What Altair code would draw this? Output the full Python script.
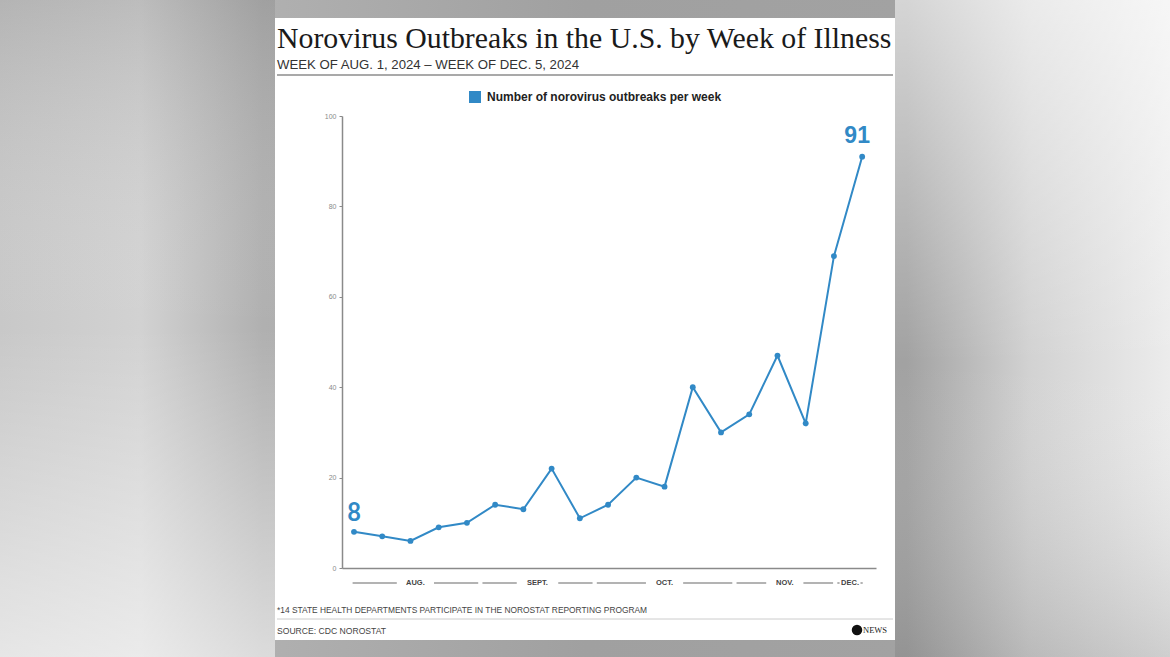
import altair as alt
import pandas as pd

# ---------------- data ----------------
weeks = ["Aug 1", "Aug 8", "Aug 15", "Aug 22", "Aug 29", "Sep 5", "Sep 12", "Sep 19",
         "Sep 26", "Oct 3", "Oct 10", "Oct 17", "Oct 24", "Oct 31", "Nov 7", "Nov 14",
         "Nov 21", "Nov 28", "Dec 5"]
outbreaks = [8, 7, 6, 9, 10, 14, 13, 22, 11, 14, 20, 18, 40, 30, 34, 47, 32, 69, 91]
y_ticks = [0, 20, 40, 60, 80, 100]
months = ["AUG.", "SEPT.", "OCT.", "NOV.", "DEC."]
month_start = [-0.05, 4.55, 8.6, 13.55, 17.12]   # in week-index units
month_end = [4.4, 8.45, 13.4, 16.97, 18.02]

title_text = "Norovirus Outbreaks in the U.S. by Week of Illness"
subtitle_text = "WEEK OF AUG. 1, 2024 \u2013 WEEK OF DEC. 5, 2024"
legend_text = "Number of norovirus outbreaks per week"
note_text = "*14 STATE HEALTH DEPARTMENTS PARTICIPATE IN THE NOROSTAT REPORTING PROGRAM"
source_text = "SOURCE: CDC NOROSTAT"
logo_text = "NEWS"

# ---------------- tables ----------------
df = pd.DataFrame({"idx": list(range(len(weeks))), "week": weeks, "value": outbreaks})

W, H = 534, 452
X_DOMAIN = [-0.425, 18.49]
PX = W / (X_DOMAIN[1] - X_DOMAIN[0])

seg_rows = []
lab_rows = []
for m, s, e in zip(months, month_start, month_end):
    mid = (s + e) / 2
    g = (len(m) * 4.3 / 2 + 10) / PX
    left_end = max(mid - g, s + 0.08)
    right_start = min(mid + g, e - 0.08)
    seg_rows.append({"a": s, "b": left_end})
    seg_rows.append({"a": right_start, "b": e})
    lab_rows.append({"mid": mid, "label": m})
segs = pd.DataFrame(seg_rows)
mlabs = pd.DataFrame(lab_rows)

one = pd.DataFrame({"k": [0]})
BLUE = "#3189c6"
GRAY = "#8a8a8a"

xscale = alt.Scale(domain=X_DOMAIN, nice=False, zero=False)
yscale = alt.Scale(domain=[0, 100], nice=False)
xaxis = alt.Axis(labels=False, ticks=False, title=None, grid=False,
                 domainColor=GRAY, domainWidth=1.5, zindex=1)
yaxis = alt.Axis(values=y_ticks, title=None, grid=False, labelFontSize=7,
                 labelColor=GRAY, labelFont="Liberation Sans", tickSize=3,
                 tickColor=GRAY, tickWidth=1, domainColor=GRAY,
                 domainWidth=1.5, labelPadding=3, zindex=1)


def X(field):
    return alt.X(field, scale=xscale, axis=xaxis)


def Y(field):
    return alt.Y(field, scale=yscale, axis=yaxis)


def rect(x, x2, y, y2, fill, **kw):
    return alt.Chart(one).mark_rect(fill=fill, **kw).encode(
        x=alt.value(x), x2=alt.value(x2), y=alt.value(y), y2=alt.value(y2))


def text(t, x, y, **kw):
    return alt.Chart(one).mark_text(text=t, **kw).encode(x=alt.value(x), y=alt.value(y))


def hline(x, x2, y, color, width):
    return alt.Chart(one).mark_rule(color=color, strokeWidth=width).encode(
        x=alt.value(x), x2=alt.value(x2), y=alt.value(y))


# ---------------- background ----------------
bg_grad = alt.LinearGradient(
    gradient="linear", x1=0, x2=1, y1=0, y2=0,
    stops=[alt.GradientStop(color="#c8c8c8", offset=0),
           alt.GradientStop(color="#d2d2d2", offset=0.12),
           alt.GradientStop(color="#b0b0b0", offset=0.225),
           alt.GradientStop(color="#a0a0a0", offset=0.5),
           alt.GradientStop(color="#a2a2a2", offset=0.775),
           alt.GradientStop(color="#d2d2d2", offset=0.88),
           alt.GradientStop(color="#ececec", offset=1)])
left_shade = alt.LinearGradient(
    gradient="linear", x1=0, x2=0, y1=0, y2=1,
    stops=[alt.GradientStop(color="rgba(90,90,90,0.18)", offset=0),
           alt.GradientStop(color="rgba(255,255,255,0.0)", offset=0.5),
           alt.GradientStop(color="rgba(255,255,255,0.55)", offset=1)])
right_shade = alt.LinearGradient(
    gradient="linear", x1=0, x2=0, y1=0, y2=1,
    stops=[alt.GradientStop(color="rgba(255,255,255,0.55)", offset=0),
           alt.GradientStop(color="rgba(255,255,255,0.0)", offset=0.55),
           alt.GradientStop(color="rgba(90,90,90,0.2)", offset=1)])

layers = [
    rect(-342, 828, -116, 541, bg_grad),
    rect(-342, -67, -116, 541, left_shade),
    rect(553, 828, -116, 541, right_shade),
    rect(-67, 553, -98, 524, "#ffffff"),
    text(title_text, -65, -68, font="Liberation Serif", fontSize=29.8, color="#1a1a1a",
         align="left", baseline="alphabetic"),
    text(subtitle_text, -65, -47, font="Liberation Sans", fontSize=13.2, color="#333333",
         align="left", baseline="alphabetic"),
    hline(-65, 551, -41, "#555555", 1.2),
    alt.Chart(one).mark_square(size=144, color=BLUE, opacity=1).encode(
        x=alt.value(133), y=alt.value(-19)),
    text(legend_text, 145, -19, font="Liberation Sans", fontSize=12, fontWeight="bold",
         color="#222222", align="left", baseline="middle"),
    text(note_text, -65, 497, font="Liberation Sans", fontSize=8.4, color="#444444",
         align="left", baseline="alphabetic"),
    hline(-65, 551, 503, "#cccccc", 1),
    text(source_text, -65, 518, font="Liberation Sans", fontSize=8.6, color="#444444",
         align="left", baseline="alphabetic"),
    alt.Chart(one).mark_circle(size=110, color="#111111", opacity=1).encode(
        x=alt.value(515), y=alt.value(514)),
    text(logo_text, 521, 514, font="Liberation Serif", fontSize=8.5, color="#222222",
         align="left", baseline="middle"),
]

# ---------------- chart ----------------
base = alt.Chart(df).encode(x=X("idx:Q"), y=Y("value:Q"))
line = base.mark_line(color=BLUE, strokeWidth=2)
pts = base.mark_circle(color=BLUE, size=34, opacity=1)

first = df.iloc[[0]]
last = df.iloc[[-1]]
lab_first = alt.Chart(first).mark_text(
    color=BLUE, fontSize=25, fontWeight=500, font="Roboto", dy=-11,
    baseline="alphabetic", align="center").encode(
    x=X("idx:Q"), y=Y("value:Q"), text="value:Q")
lab_last = alt.Chart(last).mark_text(
    color=BLUE, fontSize=23, fontWeight="bold", font="Liberation Sans", dy=-14, dx=-5,
    baseline="alphabetic", align="center").encode(
    x=X("idx:Q"), y=Y("value:Q"), text="value:Q")

month_rules = alt.Chart(segs).mark_rule(color="#9a9a9a", strokeWidth=1.5).encode(
    x=X("a:Q"), x2="b:Q", y=alt.value(467))
month_text = alt.Chart(mlabs).mark_text(
    fontSize=7.5, color="#444444", font="Liberation Sans", fontWeight="bold",
    baseline="middle", align="center").encode(
    x=X("mid:Q"), y=alt.value(467), text="label:N")

chart = alt.layer(*layers, line, pts, lab_first, lab_last, month_rules, month_text).properties(
    width=W, height=H,
    padding={"left": 342, "top": 116, "right": 294, "bottom": 89},
    autosize=alt.AutoSizeParams(type="none"),
    background="#c4c4c4",
).configure_view(stroke=None)

chart.save("out.html", embed_options={"renderer": "svg", "actions": False})
